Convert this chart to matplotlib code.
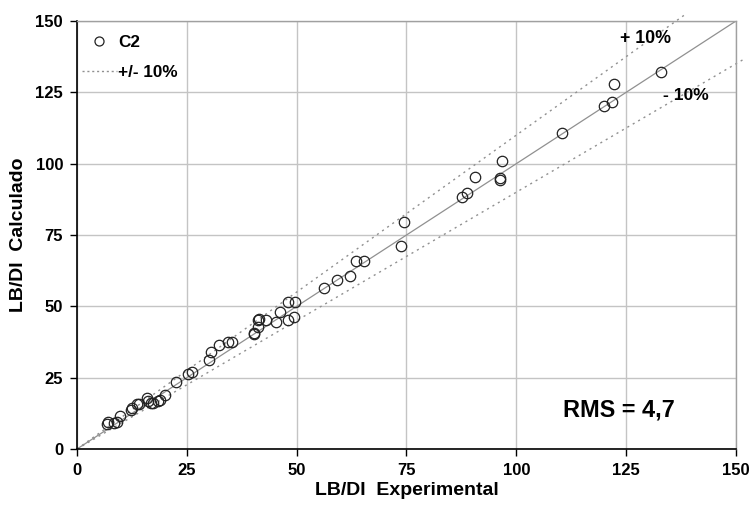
''' C2 - LB/DI calculado vs experimental '''

import matplotlib
matplotlib.use('Agg')
import matplotlib.pyplot as plt
from matplotlib.lines import Line2D

lb_exp = [6.8, 7.1, 8.4, 9.1, 9.7, 12.2, 12.6, 13.6, 14.0, 15.9, 16.1,
          16.8, 17.4, 18.5, 19.0, 20.0, 22.6, 25.2, 26.1, 30.0, 30.5,
          32.3, 34.4, 35.3, 40.2, 40.4, 41.1, 41.3, 41.5, 43.1, 45.3,
          46.2, 48.0, 48.0, 49.5, 49.7, 56.2, 59.2, 62.1, 63.4, 65.3,
          73.8, 74.5, 87.6, 88.7, 90.5, 96.3, 96.4, 96.8, 110.4, 120.0,
          121.7, 122.2, 132.9]
lb_calc = [8.7, 9.5, 9.2, 9.5, 11.6, 13.7, 14.3, 15.8, 15.8, 17.8, 16.9,
           16.2, 16.2, 16.9, 17.2, 18.9, 23.4, 26.2, 26.9, 31.2, 34.1,
           36.3, 37.5, 37.5, 40.2, 40.5, 42.9, 45.3, 45.5, 45.2, 44.4,
           47.9, 45.3, 51.6, 46.3, 51.4, 56.6, 59.3, 60.8, 65.9, 65.9,
           71.3, 79.7, 88.4, 89.8, 95.5, 94.3, 95.1, 101.1, 110.8, 120.2,
           121.5, 127.8, 132.1]

ticks = [0, 25, 50, 75, 100, 125, 150]
ident_x = [0, 150]
plus_x = [0, 138.5]
minus_x = [0, 152.0]


def main():
    ''' main '''
    plt.rcParams['font.family'] = ['Liberation Sans', 'DejaVu Sans']
    plt.rcParams['font.weight'] = 'bold'

    fig = plt.figure(figsize=(7.49, 5.11), dpi=100)
    ax = fig.add_axes([0.1028, 0.1213, 0.8798, 0.8376])

    ax.set_xlim(0, 150)
    ax.set_ylim(0, 150)
    ax.set_xticks(ticks)
    ax.set_yticks(ticks)
    ax.grid(True, color='#c4c4c4', linewidth=1.0, zorder=0)
    ax.set_axisbelow(True)

    for side in ('top', 'right'):
        ax.spines[side].set_color('#a0a0a0')
        ax.spines[side].set_linewidth(1.0)
    for side in ('left', 'bottom'):
        ax.spines[side].set_color('black')
        ax.spines[side].set_linewidth(1.2)

    ax.tick_params(direction='out', length=5, width=1, colors='black',
                   labelsize=12, pad=5)
    for lab in ax.get_xticklabels() + ax.get_yticklabels():
        lab.set_fontweight('bold')

    # 1:1 and +/- 10 % lines
    ax.plot(ident_x, ident_x, color='#909090', linewidth=0.9, zorder=2)
    ax.plot(plus_x, [v * 1.1 for v in plus_x], color='#909090',
            linestyle=(0, (1.5, 3)), linewidth=1.0, clip_on=False, zorder=2)
    ax.plot(minus_x, [v * 0.9 for v in minus_x], color='#909090',
            linestyle=(0, (1.5, 3)), linewidth=1.0, clip_on=False, zorder=2)

    ax.plot(lb_exp, lb_calc, linestyle='none', marker='o', markersize=7.5,
            markerfacecolor='none', markeredgecolor='#222222',
            markeredgewidth=0.9, zorder=3)

    ax.text(129.3, 143.7, '+ 10%', fontsize=12.8, fontweight='bold',
            ha='center', va='center')
    ax.text(138.6, 123.8, '- 10%', fontsize=12.6, fontweight='bold',
            ha='center', va='center')
    ax.text(123.4, 13.7, 'RMS = 4,7', fontsize=16.9, fontweight='bold',
            ha='center', va='center')

    handles = [
        Line2D([], [], linestyle='none', marker='o', markersize=6.5,
               markerfacecolor='none', markeredgecolor='#222222',
               markeredgewidth=0.9),
        Line2D([], [], color='#909090', linestyle=(0, (1.5, 2)),
               linewidth=1.0),
    ]
    ax.legend(handles, ['C2', '+/- 10%'], loc='upper left', frameon=False,
              prop={'weight': 'bold', 'size': 12.3}, handlelength=2.0,
              handletextpad=0.1, labelspacing=0.85,
              bbox_to_anchor=(-0.01, 0.995), borderaxespad=0.3)

    ax.set_xlabel('LB/DI  Experimental', fontsize=14, fontweight='bold',
                  labelpad=3)
    ax.set_ylabel('LB/DI  Calculado', fontsize=14, fontweight='bold',
                  labelpad=6)

    fig.savefig('out.png', dpi=100)


if __name__ == '__main__':
    main()
